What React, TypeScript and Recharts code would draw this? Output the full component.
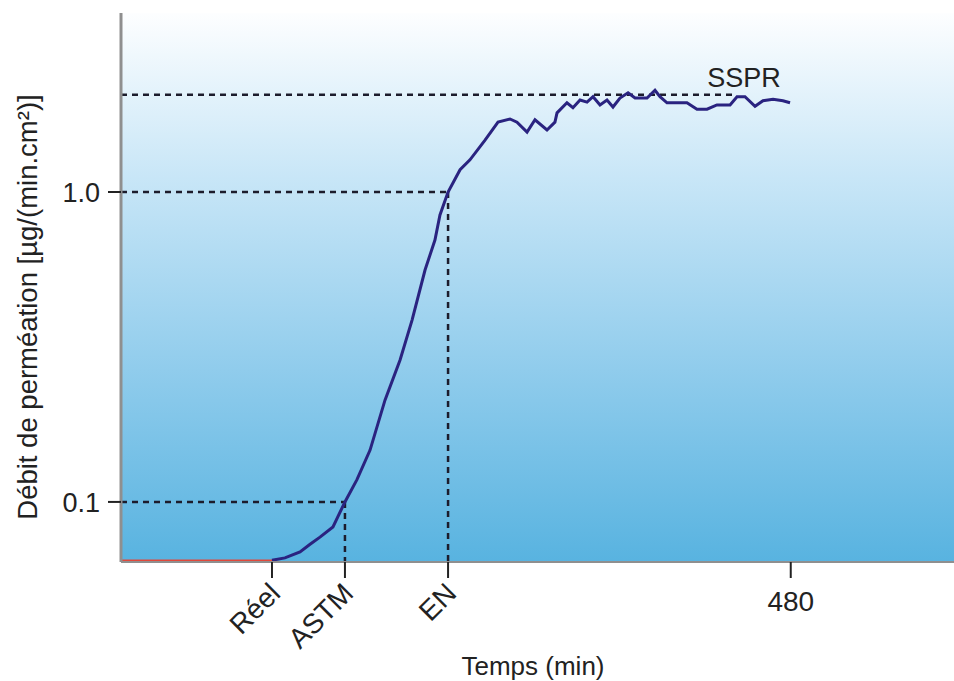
import React from 'react';
import {
  LineChart, Line, XAxis, YAxis, CartesianGrid, ReferenceLine, ReferenceDot,
} from 'recharts';

// ---- data ----
const curveTimes = [108.2, 117.5, 128.3, 135.5, 142.6, 151.9, 160.5, 169.1, 178.5, 189.2, 200, 208.6, 217.9, 225, 228.6, 234.4, 243, 250.1, 260.9, 270.2, 278.8, 283.8, 291, 296.7, 305.3, 311, 312.5, 319.6, 323.9, 329, 334, 338.3, 343.3, 348.3, 352.6, 357.6, 363.4, 368.4, 377, 382.7, 386.3, 391.3, 405.6, 412.8, 420, 427.1, 436.5, 441.5, 447.2, 454.4, 460.1, 467.3, 474.4, 479.5];
const curveValues = [0.0648, 0.066, 0.069, 0.073, 0.077, 0.083, 0.1, 0.118, 0.147, 0.213, 0.287, 0.386, 0.56, 0.7, 0.843, 1.0, 1.18, 1.27, 1.47, 1.68, 1.72, 1.68, 1.56, 1.71, 1.585, 1.68, 1.8, 1.94, 1.87, 1.98, 1.95, 2.03, 1.91, 1.98, 1.88, 2.01, 2.09, 2.01, 2.01, 2.13, 2.03, 1.94, 1.94, 1.85, 1.85, 1.91, 1.91, 2.03, 2.03, 1.89, 1.97, 1.99, 1.97, 1.94];
const baselineTimes = [0, 108.2];
const baselineValues = [0.0645, 0.0645];

const xTickValues = [108.2, 160.5, 234.4, 480];
const xTickLabels = ['Réel', 'ASTM', 'EN', '480'];
const yTickValues = [0.1, 1];
const yTickLabels = ['0.1', '1.0'];

const yMin = 0.064;
const yMax = 3.78;
const xMin = 0;
const xMax = 597;
const ssprValue = 2.06;
const ssprEnd = 438.6;
const ssprLabelTime = 446.5;
const astmTime = 160.5;
const enTime = 234.4;

const xLabel = 'Temps (min)';
const yLabel = 'Débit de perméation [µg/(min.cm²)]';
const ssprLabel = 'SSPR';

const curveData = curveTimes.map((t, i) => ({ t, v: curveValues[i] }));
const baselineData = baselineTimes.map((t, i) => ({ t, v: baselineValues[i] }));

const FONT = '"Liberation Sans", Arial, sans-serif';
const TEXT = '#222222';
const DASH = '#1c1c2c';

const XTick = (props: any) => {
  const { x, y, payload } = props;
  const idx = xTickValues.indexOf(payload.value);
  const label = xTickLabels[idx] ?? String(payload.value);
  if (idx === xTickValues.length - 1) {
    return (
      <text x={x} y={y + 33} textAnchor="middle" fill={TEXT} fontSize={28} fontFamily={FONT}>
        {label}
      </text>
    );
  }
  const ax = x + 10;
  const ay = y + 17;
  return (
    <text x={ax} y={ay} textAnchor="end" fill={TEXT} fontSize={28} fontFamily={FONT}
      transform={`rotate(-45, ${ax}, ${ay})`}>
      {label}
    </text>
  );
};

const YTick = (props: any) => {
  const { x, y, payload } = props;
  const idx = yTickValues.indexOf(payload.value);
  return (
    <text x={x} y={y + 10} textAnchor="end" fill={TEXT} fontSize={27} fontFamily={FONT}>
      {yTickLabels[idx]}
    </text>
  );
};

export default function App() {
  return (
    <div style={{ position: 'absolute', left: 0, top: 0, width: 954, height: 681, background: '#fff' }}>
      <LineChart width={954} height={681} margin={{ top: 13, right: 0, left: 0, bottom: 0 }}>
        <defs>
          <linearGradient id="bgGrad" x1="0" y1="0" x2="0" y2="1">
            <stop offset="0" stopColor="#fdfeff" />
            <stop offset="0.3" stopColor="#c8e6f7" />
            <stop offset="0.65" stopColor="#90ccec" />
            <stop offset="1" stopColor="#58b3e0" />
          </linearGradient>
        </defs>
        <CartesianGrid fill="url(#bgGrad)" horizontal={false} vertical={false} />
        <XAxis
          xAxisId="main"
          type="number"
          dataKey="t"
          domain={[xMin, xMax]}
          ticks={xTickValues}
          interval={0}
          height={119}
          tickSize={16}
          tickMargin={0}
          axisLine={{ stroke: '#8f8f8f', strokeWidth: 2 }}
          tickLine={{ stroke: TEXT, strokeWidth: 2 }}
          tick={<XTick />}
          allowDataOverflow
          label={{
            content: () => (
              <text x={533} y={675} textAnchor="middle" fill={TEXT} fontSize={26} fontFamily={FONT}>
                {xLabel}
              </text>
            ),
          }}
        />
        <XAxis
          xAxisId="top"
          orientation="top"
          type="number"
          domain={[xMin, xMax]}
          height={0}
          tick={false}
          tickLine={false}
          axisLine={{ stroke: '#8f8f8f', strokeWidth: 3 }}
        />
        <YAxis
          type="number"
          scale="log"
          domain={[yMin, yMax]}
          ticks={yTickValues}
          allowDataOverflow
          width={121}
          tickSize={13}
          tickMargin={8}
          axisLine={{ stroke: '#8f8f8f', strokeWidth: 3 }}
          tickLine={{ stroke: TEXT, strokeWidth: 2 }}
          tick={<YTick />}
          label={{
            content: () => (
              <text x={37} y={307} transform="rotate(-90, 37, 307)" textAnchor="middle" fill={TEXT}
                fontSize={27.5} fontFamily={FONT}>
                {yLabel}
              </text>
            ),
          }}
        />
        <ReferenceLine xAxisId="main" segment={[{ x: xMin, y: ssprValue }, { x: ssprEnd, y: ssprValue }]}
          stroke={DASH} strokeWidth={2.5} strokeDasharray="6 5" />
        <ReferenceLine xAxisId="main" segment={[{ x: xMin, y: 1 }, { x: enTime, y: 1 }]}
          stroke={DASH} strokeWidth={2.5} strokeDasharray="6 5" />
        <ReferenceLine xAxisId="main" segment={[{ x: enTime, y: 1 }, { x: enTime, y: yMin }]}
          stroke={DASH} strokeWidth={2.5} strokeDasharray="6 5" />
        <ReferenceLine xAxisId="main" segment={[{ x: xMin, y: 0.1 }, { x: astmTime, y: 0.1 }]}
          stroke={DASH} strokeWidth={2.5} strokeDasharray="6 5" />
        <ReferenceLine xAxisId="main" segment={[{ x: astmTime, y: 0.1 }, { x: astmTime, y: yMin }]}
          stroke={DASH} strokeWidth={2.5} strokeDasharray="6 5" />
        <Line xAxisId="main" data={baselineData} dataKey="v" type="linear" stroke="#e2483a"
          strokeWidth={3} dot={false} isAnimationActive={false} />
        <Line xAxisId="main" data={curveData} dataKey="v" type="linear" stroke="#2a2380"
          strokeWidth={3} dot={false} isAnimationActive={false} />
        <ReferenceDot xAxisId="main" x={ssprLabelTime} y={ssprValue} r={0} fill="none" stroke="none"
          label={{ value: ssprLabel, position: 'top', offset: 8, fill: TEXT, fontSize: 27, fontFamily: FONT }} />
      </LineChart>
    </div>
  );
}
